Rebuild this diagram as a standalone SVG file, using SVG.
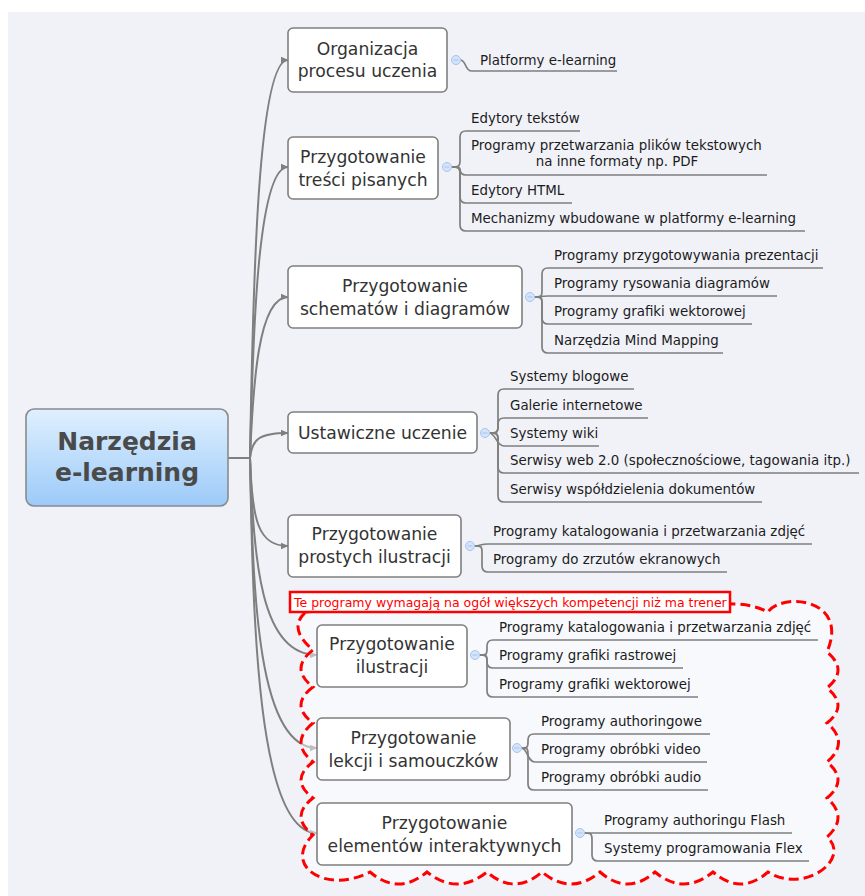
<svg xmlns="http://www.w3.org/2000/svg" width="865" height="896" viewBox="0 0 865 896">
  <defs>
    <linearGradient id="rootFill" x1="0" y1="0" x2="0" y2="1">
      <stop offset="0" stop-color="#dff0fe"/>
      <stop offset="1" stop-color="#9ccaf9"/>
    </linearGradient>
    <marker id="arrow" viewBox="0 0 8 8" refX="7" refY="4" markerWidth="8" markerHeight="8" markerUnits="userSpaceOnUse" orient="auto">
      <path d="M0,0.8 L7.5,4 L0,7.2 Z" fill="#7f7f7f"/>
    </marker>
    <style>
      .node { fill: #ffffff; stroke: #7f7f7f; stroke-width: 1.6; }
      .ntext { font-family: "DejaVu Sans", Verdana, sans-serif; font-size: 17.2px; fill: #333333; text-anchor: middle; }
      .stext { font-family: "DejaVu Sans", Verdana, sans-serif; font-size: 13.4px; fill: #1c1c1c; }
      .main { fill: none; stroke: #7f7f7f; stroke-width: 2; }
      .sub { fill: none; stroke: #7f7f7f; stroke-width: 1.7; }
      .knob { fill: #d3e3fa; stroke: #a9c4ee; stroke-width: 1; }
      .knobbar { stroke: #a9c4ee; stroke-width: 1; }
    </style>
  </defs>

  <!-- canvas -->
  <rect x="0" y="0" width="865" height="896" fill="#ffffff"/>
  <rect x="8" y="12" width="857" height="884" fill="#f1f2f8"/>

  <!-- connectors from the central topic to each topic -->
  <g id="connectors">
    <path class="main" d="M228,458 H250"/>
    <path class="main" marker-end="url(#arrow)" d="M250,458 C253,280 258,60 288,60"/>
    <path class="main" marker-end="url(#arrow)" d="M250,458 C253,328 258,167 288,167"/>
    <path class="main" marker-end="url(#arrow)" d="M250,458 C253,386 258,297 288,297"/>
    <path class="main" marker-end="url(#arrow)" d="M250,458 C252,440 258,433 288,433"/>
    <path class="main" marker-end="url(#arrow)" d="M250,458 C252,520 258,546 288,546"/>
    <path class="main" marker-end="url(#arrow)" d="M250,458 C254,560 260,655 317,655"/>
    <path class="main" marker-end="url(#arrow)" d="M250,458 C253,598 258,748 317,748"/>
    <path class="main" marker-end="url(#arrow)" d="M250,458 C253,627 258,833 317,833"/>
  </g>

  <!-- boundary cloud around the demanding topics -->
  <path id="cloud" fill="#ffffff" fill-opacity="0.5" stroke="#ff0000" stroke-width="3" stroke-dasharray="10 5"
        d="M306,612 Q520,588 733,604 Q752,604 768,612
           C782,592 850,598 827,652
           Q849,670 827,688 Q849,705.5 827,723 Q850,742.5 827,762 Q849,780 827,798 Q849,817.5 827,837
           C852,858 805,895 768,872
           Q740.5,896 713,872 Q684,896 655,872 Q627.5,896 600,872 Q571,896 542,872
           Q514.5,896 487,872 Q457,896 427,872 Q398.5,896 370,872
           C325,895 282,865 313,835
           Q289,816.5 313,798 Q289,780 313,762 Q289,742.5 313,723 Q289,705 313,687 Q289,668.5 313,650
           Q287,628 306,612 Z"/>

  <!-- connectors from each topic to its subtopics -->
  <g id="branch-connectors">
    <!-- Organizacja procesu uczenia -->
    <path class="sub" d="M460,60 C467,60 464,71 472,71 H617"/>
    <!-- Przygotowanie treści pisanych -->
    <path class="sub" d="M451,167 C458,167 460,167 460,161 V137 Q460,131 466,131 H580"/>
    <path class="sub" d="M451,167 C458,167 460,167 460,169 V169 Q460,175 466,175 H767"/>
    <path class="sub" d="M451,167 C458,167 460,167 460,173 V197 Q460,203 466,203 H572"/>
    <path class="sub" d="M451,167 C458,167 460,167 460,173 V225 Q460,231 466,231 H805"/>
    <!-- Przygotowanie schematów i diagramów -->
    <path class="sub" d="M534,297 C541,297 542,297 542,291 V274 Q542,268 548,268 H823"/>
    <path class="sub" d="M534,297 C541,297 540,296 548,296 H777"/>
    <path class="sub" d="M534,297 C541,297 542,297 542,303 V318 Q542,324 548,324 H752"/>
    <path class="sub" d="M534,297 C541,297 542,297 542,303 V347 Q542,353 548,353 H723"/>
    <!-- Ustawiczne uczenie -->
    <path class="sub" d="M489,433 C496,433 498,433 498,427 V395 Q498,389 504,389 H634"/>
    <path class="sub" d="M489,433 C496,433 498,433 498,427 V424 Q498,418 504,418 H648"/>
    <path class="sub" d="M489,433 C496,433 496,446 504,446 H599"/>
    <path class="sub" d="M489,433 C496,433 498,433 498,439 V467 Q498,473 504,473 H859"/>
    <path class="sub" d="M489,433 C496,433 498,433 498,439 V496 Q498,502 504,502 H762"/>
    <!-- Przygotowanie prostych ilustracji -->
    <path class="sub" d="M474,546 C481,546 480,544 488,544 H812"/>
    <path class="sub" d="M474,546 C481,546 482,546 482,552 V566 Q482,572 488,572 H727"/>
    <!-- Przygotowanie ilustracji -->
    <path class="sub" d="M479,655 C486,655 487,655 487,649 V646 Q487,640 493,640 H818"/>
    <path class="sub" d="M479,655 C486,655 487,655 487,661 V662 Q487,668 493,668 H683"/>
    <path class="sub" d="M479,655 C486,655 487,655 487,661 V691 Q487,697 493,697 H698"/>
    <!-- Przygotowanie lekcji i samouczków -->
    <path class="sub" d="M521,748 C527,748 528,748 528,742 V740 Q528,734 534,734 H710"/>
    <path class="sub" d="M521,748 C528,748 527,762 535,762 H707"/>
    <path class="sub" d="M521,748 C527,748 528,748 528,754 V784 Q528,790 534,790 H708"/>
    <!-- Przygotowanie elementów interaktywnych -->
    <path class="sub" d="M584,833 H792"/>
    <path class="sub" d="M584,833 C590,833 592,833 592,839 V855 Q592,861 598,861 H809"/>
  </g>

  <!-- central topic -->
  <g id="root">
    <rect x="26" y="409" width="202" height="97" rx="8" fill="url(#rootFill)" stroke="#8a8a8a" stroke-width="1.6"/>
    <text x="127" y="450" font-family="DejaVu Sans, Verdana, sans-serif" font-size="25" font-weight="bold" fill="#4a4a4a" text-anchor="middle">Narzędzia</text>
    <text x="127" y="481" font-family="DejaVu Sans, Verdana, sans-serif" font-size="25" font-weight="bold" fill="#4a4a4a" text-anchor="middle">e-learning</text>
  </g>

  <g id="organizacja">
    <rect class="node" x="288" y="28" width="159" height="64" rx="5"/>
    <text class="ntext" x="367.5" y="55">Organizacja</text>
    <text class="ntext" x="367.5" y="77">procesu uczenia</text>
    <circle class="knob" cx="456" cy="60" r="4.5"/>
    <line class="knobbar" x1="453.5" y1="60" x2="458.5" y2="60"/>
    <text class="stext" x="480" y="65">Platformy e-learning</text>
  </g>

  <g id="tresci">
    <rect class="node" x="288" y="137" width="150" height="62" rx="5"/>
    <text class="ntext" x="363" y="163">Przygotowanie</text>
    <text class="ntext" x="363" y="186">treści pisanych</text>
    <circle class="knob" cx="447" cy="167" r="4.5"/>
    <line class="knobbar" x1="444.5" y1="167" x2="449.5" y2="167"/>
    <text class="stext" x="471" y="123">Edytory tekstów</text>
    <text class="stext" x="471" y="150">Programy przetwarzania plików tekstowych</text>
    <text class="stext" x="617" y="166" text-anchor="middle">na inne formaty np. PDF</text>
    <text class="stext" x="471" y="195">Edytory HTML</text>
    <text class="stext" x="471" y="223">Mechanizmy wbudowane w platformy e-learning</text>
  </g>

  <g id="schematy">
    <rect class="node" x="288" y="266" width="234" height="62" rx="5"/>
    <text class="ntext" x="405" y="292">Przygotowanie</text>
    <text class="ntext" x="405" y="315">schematów i diagramów</text>
    <circle class="knob" cx="530" cy="297" r="4.5"/>
    <line class="knobbar" x1="527.5" y1="297" x2="532.5" y2="297"/>
    <text class="stext" x="554" y="260">Programy przygotowywania prezentacji</text>
    <text class="stext" x="554" y="288">Programy rysowania diagramów</text>
    <text class="stext" x="554" y="316">Programy grafiki wektorowej</text>
    <text class="stext" x="554" y="345">Narzędzia Mind Mapping</text>
  </g>

  <g id="ustawiczne">
    <rect class="node" x="288" y="412" width="189" height="41" rx="5"/>
    <text class="ntext" x="382.5" y="439">Ustawiczne uczenie</text>
    <circle class="knob" cx="485" cy="433" r="4.5"/>
    <line class="knobbar" x1="482.5" y1="433" x2="487.5" y2="433"/>
    <text class="stext" x="510" y="381">Systemy blogowe</text>
    <text class="stext" x="510" y="410">Galerie internetowe</text>
    <text class="stext" x="510" y="438">Systemy wiki</text>
    <text class="stext" x="510" y="465">Serwisy web 2.0 (społecznościowe, tagowania itp.)</text>
    <text class="stext" x="510" y="494">Serwisy współdzielenia dokumentów</text>
  </g>

  <g id="proste-ilustracje">
    <rect class="node" x="288" y="515" width="173" height="62" rx="5"/>
    <text class="ntext" x="374.5" y="540">Przygotowanie</text>
    <text class="ntext" x="374.5" y="563">prostych ilustracji</text>
    <circle class="knob" cx="470" cy="546" r="4.5"/>
    <line class="knobbar" x1="467.5" y1="546" x2="472.5" y2="546"/>
    <text class="stext" x="493" y="536">Programy katalogowania i przetwarzania zdjęć</text>
    <text class="stext" x="493" y="564">Programy do zrzutów ekranowych</text>
  </g>

  <g id="uwaga">
    <rect x="290" y="592" width="440" height="20" fill="#ffffff" stroke="#ff0000" stroke-width="2.5"/>
    <text x="294" y="607" font-family="DejaVu Sans, Verdana, sans-serif" font-size="12.5" fill="#ff0000">Te programy wymagają na ogół większych kompetencji niż ma trener</text>
  </g>

  <g id="ilustracje">
    <rect class="node" x="317" y="625" width="150" height="62" rx="5"/>
    <text class="ntext" x="392" y="650">Przygotowanie</text>
    <text class="ntext" x="392" y="673">ilustracji</text>
    <circle class="knob" cx="475" cy="655" r="4.5"/>
    <line class="knobbar" x1="472.5" y1="655" x2="477.5" y2="655"/>
    <text class="stext" x="499" y="632">Programy katalogowania i przetwarzania zdjęć</text>
    <text class="stext" x="499" y="660">Programy grafiki rastrowej</text>
    <text class="stext" x="499" y="689">Programy grafiki wektorowej</text>
  </g>

  <g id="lekcje">
    <rect class="node" x="317" y="718" width="193" height="62" rx="5"/>
    <text class="ntext" x="413.5" y="744">Przygotowanie</text>
    <text class="ntext" x="413.5" y="767">lekcji i samouczków</text>
    <circle class="knob" cx="517" cy="748" r="4.5"/>
    <line class="knobbar" x1="514.5" y1="748" x2="519.5" y2="748"/>
    <text class="stext" x="541" y="726">Programy authoringowe</text>
    <text class="stext" x="541" y="754">Programy obróbki video</text>
    <text class="stext" x="541" y="782">Programy obróbki audio</text>
  </g>

  <g id="interaktywne">
    <rect class="node" x="317" y="803" width="255" height="62" rx="5"/>
    <text class="ntext" x="444.5" y="829">Przygotowanie</text>
    <text class="ntext" x="444.5" y="852">elementów interaktywnych</text>
    <circle class="knob" cx="580" cy="833" r="4.5"/>
    <line class="knobbar" x1="577.5" y1="833" x2="582.5" y2="833"/>
    <text class="stext" x="604" y="825">Programy authoringu Flash</text>
    <text class="stext" x="604" y="853">Systemy programowania Flex</text>
  </g>
</svg>
